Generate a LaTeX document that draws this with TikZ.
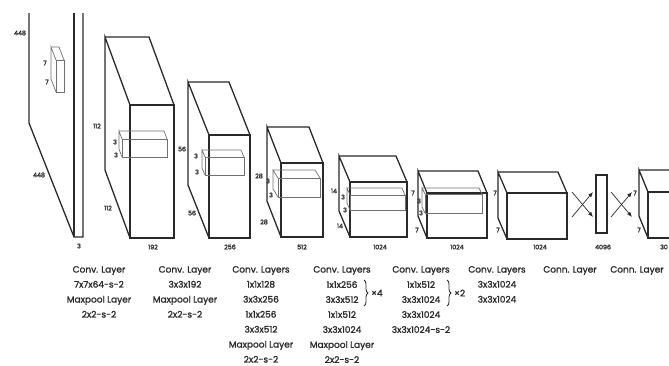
\documentclass[tikz,border=0pt]{standalone}
\usepackage{fontspec}
\setmainfont{Poppins}
\newfontfamily\layerfont{Poppins}[FakeBold=1.5]
\usetikzlibrary{arrows.meta,decorations.pathreplacing}
\definecolor{YoloInk}{HTML}{2A2A2A}
\definecolor{YoloGray}{HTML}{707070}
\tikzset{
  blockline/.style={draw=YoloInk, line width=1.3pt, line join=miter},
  kernelline/.style={draw=YoloGray, line width=0.7pt},
  dimlabel/.style={font=\layerfont\fontsize{6.3}{7}\selectfont, text=YoloInk, inner sep=0pt},
  layertext/.style={font=\layerfont\fontsize{9}{15}\selectfont, text=YoloInk, align=center,
    anchor=north, inner sep=0pt},
  repeatcount/.style={font=\layerfont\fontsize{9}{15}\selectfont, text=YoloInk, anchor=west, inner sep=0pt},
  repeatbrace/.style={draw=YoloInk, line width=0.8pt, decorate, decoration={brace, amplitude=4pt}},
  fcbar/.style={draw=YoloInk, line width=1.3pt, minimum width=11pt, minimum height=58pt, inner sep=0pt},
  wire/.style={-{Latex[length=1.8mm,width=1.4mm]}, draw=YoloInk, line width=0.7pt}
}
% cuboid: front top-left x, y, width, height, depth dx, dy, style
\newcommand{\cuboid}[7]{
  \draw[#7] (#1,#2) rectangle ++(#3,#4);
  \draw[#7] (#1,#2) ++(0,#4) -- ++(-#5,-#6) -- ++(0,-#4) -- ++(#5,#6);
  \draw[#7] (#1,#2) ++(-#5,-#6) -- ++(#3,0) -- ++(#5,#6);
}
\begin{document}
\begin{tikzpicture}[x=1pt, y=-1pt]
  \useasboundingbox (0,0) rectangle (669,365);
  \clip (0,0) rectangle (669,365);

  % input image
  \draw[blockline] (29,13) -- (29,123) -- (74,237) -- (83,237) -- (83,13);
  \draw[blockline] (74,13) -- (74,237);
  \cuboid{56}{60}{8}{32}{5}{13}{kernelline}
  \node[dimlabel] (in448a) at (20,33) {448};
  \node[dimlabel] (in448b) at (39,175) {448};
  \node[dimlabel] (in3) at (79,246) {3};
  \node[dimlabel] (k1a) at (45,63) {7};
  \node[dimlabel] (k1b) at (47,82) {7};

  % feature maps
  \cuboid{130}{105}{44}{133}{25}{68}{blockline}
  \cuboid{122}{139}{45}{18}{3}{8}{kernelline}
  \node[dimlabel] at (97,126) {112};
  \node[dimlabel] at (108,208) {112};
  \node[dimlabel] at (153,247) {192};
  \node[dimlabel] at (115,142) {3};
  \node[dimlabel] at (116,155) {3};

  \cuboid{209}{135}{41}{103}{21}{53}{blockline}
  \cuboid{205}{157}{39}{18}{3}{7}{kernelline}
  \node[dimlabel] at (182,149) {56};
  \node[dimlabel] at (192,213) {56};
  \node[dimlabel] at (230,247) {256};
  \node[dimlabel] at (196,156) {3};
  \node[dimlabel] at (197,172) {3};

  \cuboid{281}{163}{42}{74}{14}{36}{blockline}
  \cuboid{278}{178}{42}{19}{5}{8}{kernelline}
  \node[dimlabel] at (259,176) {28};
  \node[dimlabel] at (264,222) {28};
  \node[dimlabel] at (302,247) {512};
  \node[dimlabel] at (268,181) {3};
  \node[dimlabel] at (271,195) {3};

  \cuboid{350}{182}{57}{55}{11}{26}{blockline}
  \cuboid{350}{195}{55}{15}{3}{7}{kernelline}
  \node[dimlabel] at (334,191) {14};
  \node[dimlabel] at (340,226) {14};
  \node[dimlabel] at (380,247) {1024};
  \node[dimlabel] at (343,197) {3};
  \node[dimlabel] at (345,210) {3};

  \cuboid{427}{193}{60}{45}{9}{22}{blockline}
  \cuboid{425}{194}{57}{19}{3}{6}{kernelline}
  \node[dimlabel] at (413,193) {7};
  \node[dimlabel] at (417,230) {7};
  \node[dimlabel] at (457,247) {1024};
  \node[dimlabel] at (419,201) {3};
  \node[dimlabel] at (421,213) {3};

  \cuboid{507}{193}{60}{46}{9}{21}{blockline}
  \node[dimlabel] at (495,193) {7};
  \node[dimlabel] at (498,230) {7};
  \node[dimlabel] at (540,247) {1024};

  % fully connected
  \node[fcbar] (fc1) at (601.5,204) {};
  \node[dimlabel] (fc1size) at (603,247) {4096};
  \coordinate (convtop) at (572,192);
  \coordinate (convbot) at (572,217);
  \coordinate (fcintop) at (593,192);
  \coordinate (fcinbot) at (593,217);
  \draw[wire] (convtop) -- (fcinbot);
  \draw[wire] (convbot) -- (fcintop);
  \coordinate (fcouttop) at (611,192);
  \coordinate (fcoutbot) at (611,217);
  \coordinate (outtop) at (632,192);
  \coordinate (outbot) at (632,217);
  \draw[wire] (fcouttop) -- (outbot);
  \draw[wire] (fcoutbot) -- (outtop);

  \cuboid{648}{192}{60}{46}{9}{22}{blockline}
  \node[dimlabel] at (635,193) {7};
  \node[dimlabel] at (639,230) {7};
  \node[dimlabel] at (664,247) {30};

  % layer descriptions
  \node[layertext] (desc1) at (99,266) {Conv. Layer\\7x7x64-s-2\\Maxpool Layer\\2x2-s-2};
  \node[layertext] (desc2) at (185,266) {Conv. Layer\\3x3x192\\Maxpool Layer\\2x2-s-2};
  \node[layertext] (desc3) at (261,266) {Conv. Layers\\1x1x128\\3x3x256\\1x1x256\\3x3x512\\Maxpool Layer\\2x2-s-2};
  \node[layertext] (desc4) at (342,266) {Conv. Layers};
  \node[layertext] (desc4rep) at (342,281) {1x1x256\\3x3x512};
  \node[layertext] (desc4tail) at (342,311) {1x1x512\\3x3x1024\\Maxpool Layer\\2x2-s-2};
  \coordinate (rep4top) at (364,280);
  \coordinate (rep4bot) at (364,306);
  \draw[repeatbrace] (rep4top) -- (rep4bot);
  \node[repeatcount] (rep4) at (371,293) {×4};
  \node[layertext] (desc5) at (421,266) {Conv. Layers};
  \node[layertext] (desc5rep) at (421,281) {1x1x512\\3x3x1024};
  \node[layertext] (desc5tail) at (421,311) {3x3x1024\\3x3x1024-s-2};
  \coordinate (rep2top) at (447,280);
  \coordinate (rep2bot) at (447,306);
  \draw[repeatbrace] (rep2top) -- (rep2bot);
  \node[repeatcount] (rep2) at (454,293) {×2};
  \node[layertext] (desc6) at (497,266) {Conv. Layers\\3x3x1024\\3x3x1024};
  \node[layertext] (desc7) at (570,266) {Conn. Layer};
  \node[layertext] (desc8) at (637,266) {Conn. Layer};
\end{tikzpicture}
\end{document}
